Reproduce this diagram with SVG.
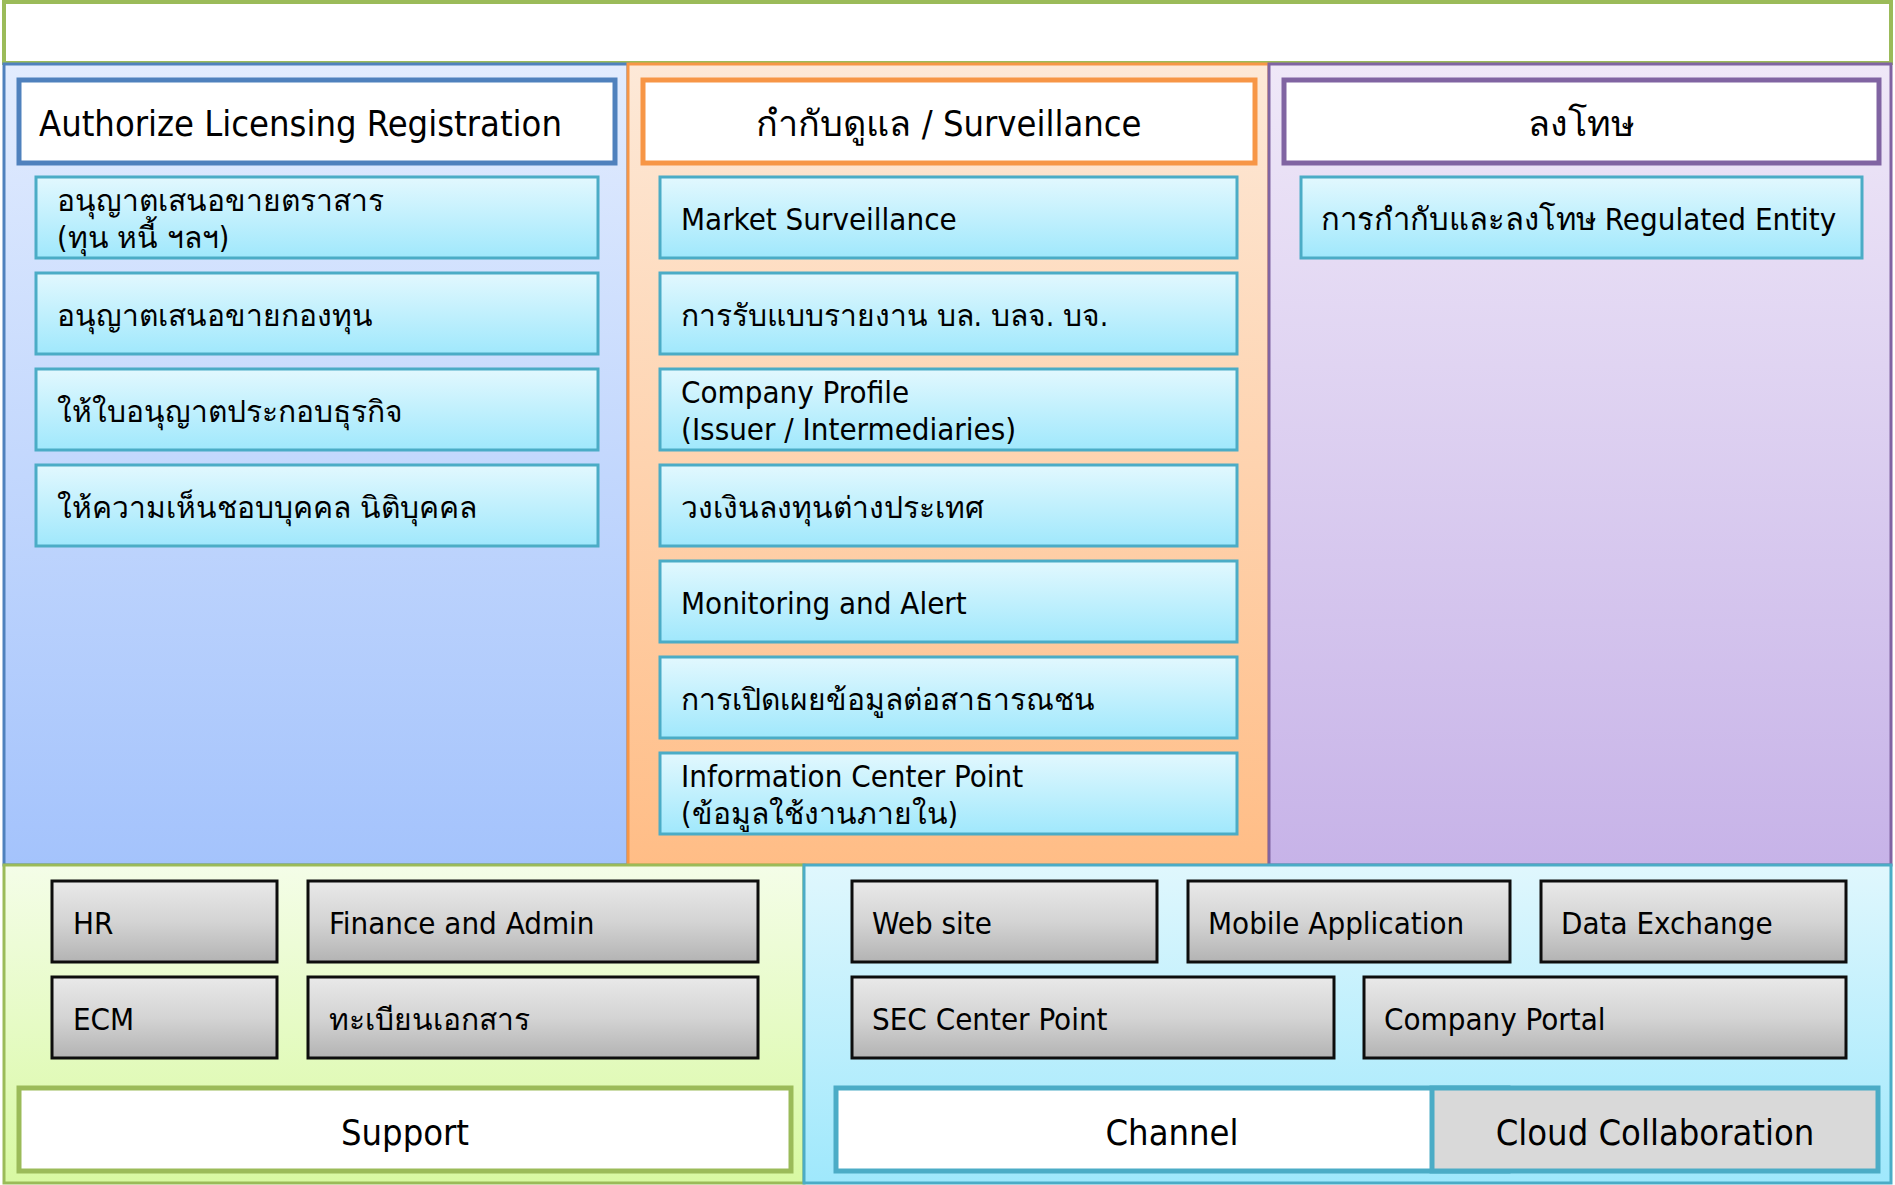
<svg xmlns="http://www.w3.org/2000/svg" width="1895" height="1185" viewBox="0 0 1895 1185">
  <defs>
    <linearGradient id="gBlue" x1="0" y1="0" x2="0" y2="1">
      <stop offset="0" stop-color="#E2ECFE"/>
      <stop offset="1" stop-color="#A4C3FC"/>
    </linearGradient>
    <linearGradient id="gOrange" x1="0" y1="0" x2="0" y2="1">
      <stop offset="0" stop-color="#FDE9D8"/>
      <stop offset="1" stop-color="#FFBD86"/>
    </linearGradient>
    <linearGradient id="gPurple" x1="0" y1="0" x2="0" y2="1">
      <stop offset="0" stop-color="#EFE8F8"/>
      <stop offset="1" stop-color="#C7B3E8"/>
    </linearGradient>
    <linearGradient id="gGreen" x1="0" y1="0" x2="0" y2="1">
      <stop offset="0" stop-color="#F4FDE8"/>
      <stop offset="1" stop-color="#D8F9A2"/>
    </linearGradient>
    <linearGradient id="gCyan" x1="0" y1="0" x2="0" y2="1">
      <stop offset="0" stop-color="#E0F7FD"/>
      <stop offset="1" stop-color="#9FE8FC"/>
    </linearGradient>
    <linearGradient id="gItem" x1="0" y1="0" x2="0" y2="1">
      <stop offset="0" stop-color="#E2F8FE"/>
      <stop offset="1" stop-color="#A0E8FC"/>
    </linearGradient>
    <linearGradient id="gGray" x1="0" y1="0" x2="0" y2="1">
      <stop offset="0" stop-color="#E9E9E9"/>
      <stop offset="0.5" stop-color="#D4D4D4"/>
      <stop offset="1" stop-color="#B3B3B3"/>
    </linearGradient>
  </defs>
  <style>
    text { font-family: "DejaVu Sans Condensed", "DejaVu Sans", sans-serif; font-stretch: condensed; fill: #000; }
    .t { font-size: 31px; }
    .th { font-size: 30px; }
    .h { font-size: 36px; }
    .c { text-anchor: middle; }
    .item { fill: url(#gItem); stroke: #4BACC6; stroke-width: 3; }
    .gray { fill: url(#gGray); stroke: #0D0D0D; stroke-width: 3; }
    .hdr { fill: #FFFFFF; stroke-width: 5; }
  </style>

  <!-- top banner -->
  <g id="banner">
    <rect x="4" y="2" width="1887" height="61" fill="#FFFFFF" stroke="#9BBB59" stroke-width="4"/>
  </g>

  <!-- column: authorize / licensing -->
  <g id="col-authorize">
    <rect x="4" y="64" width="624" height="801" fill="url(#gBlue)" stroke="#4F81BD" stroke-width="3"/>
    <rect class="hdr" x="19" y="80" width="596" height="83" stroke="#4F81BD"/>
    <text class="h" x="39" y="136">Authorize Licensing Registration</text>
  </g>
  <g id="auth-1">
    <rect class="item" x="36" y="177" width="562" height="81"/>
    <text class="th" x="57" y="211">อนุญาตเสนอขายตราสาร</text>
    <text class="th" x="57" y="248">(ทุน หนี้ ฯลฯ)</text>
  </g>
  <g id="auth-2">
    <rect class="item" x="36" y="273" width="562" height="81"/>
    <text class="th" x="57" y="326">อนุญาตเสนอขายกองทุน</text>
  </g>
  <g id="auth-3">
    <rect class="item" x="36" y="369" width="562" height="81"/>
    <text class="th" x="57" y="422">ให้ใบอนุญาตประกอบธุรกิจ</text>
  </g>
  <g id="auth-4">
    <rect class="item" x="36" y="465" width="562" height="81"/>
    <text class="th" x="57" y="518">ให้ความเห็นชอบบุคคล นิติบุคคล</text>
  </g>

  <!-- column: surveillance -->
  <g id="col-surveillance">
    <rect x="628" y="64" width="641" height="801" fill="url(#gOrange)" stroke="#F79646" stroke-width="3"/>
    <rect class="hdr" x="643" y="80" width="612" height="83" stroke="#F79646"/>
    <text class="h c" x="949" y="136">กำกับดูแล / Surveillance</text>
  </g>
  <g id="surv-1">
    <rect class="item" x="660" y="177" width="577" height="81"/>
    <text class="t" x="681" y="230">Market Surveillance</text>
  </g>
  <g id="surv-2">
    <rect class="item" x="660" y="273" width="577" height="81"/>
    <text class="th" x="681" y="326">การรับแบบรายงาน บล. บลจ. บจ.</text>
  </g>
  <g id="surv-3">
    <rect class="item" x="660" y="369" width="577" height="81"/>
    <text class="t" x="681" y="403">Company Profile</text>
    <text class="t" x="681" y="440">(Issuer / Intermediaries)</text>
  </g>
  <g id="surv-4">
    <rect class="item" x="660" y="465" width="577" height="81"/>
    <text class="th" x="681" y="518">วงเงินลงทุนต่างประเทศ</text>
  </g>
  <g id="surv-5">
    <rect class="item" x="660" y="561" width="577" height="81"/>
    <text class="t" x="681" y="614">Monitoring and Alert</text>
  </g>
  <g id="surv-6">
    <rect class="item" x="660" y="657" width="577" height="81"/>
    <text class="th" x="681" y="710">การเปิดเผยข้อมูลต่อสาธารณชน</text>
  </g>
  <g id="surv-7">
    <rect class="item" x="660" y="753" width="577" height="81"/>
    <text class="t" x="681" y="787">Information Center Point</text>
    <text class="th" x="681" y="824">(ข้อมูลใช้งานภายใน)</text>
  </g>

  <!-- column: enforcement -->
  <g id="col-enforcement">
    <rect x="1269" y="64" width="622" height="801" fill="url(#gPurple)" stroke="#8064A2" stroke-width="3"/>
    <rect class="hdr" x="1284" y="80" width="595" height="83" stroke="#8064A2"/>
    <text class="h c" x="1581" y="136">ลงโทษ</text>
  </g>
  <g id="enf-1">
    <rect class="item" x="1301" y="177" width="561" height="81"/>
    <text class="t" x="1321" y="230">การกำกับและลงโทษ Regulated Entity</text>
  </g>

  <!-- support area -->
  <g id="support">
    <rect x="4" y="865" width="800" height="318" fill="url(#gGreen)" stroke="#9BBB59" stroke-width="3"/>
    <rect x="19" y="1088" width="772" height="83" fill="#FFFFFF" stroke="#9BBB59" stroke-width="5"/>
    <text class="h c" x="405" y="1145">Support</text>
  </g>
  <g id="sup-hr">
    <rect class="gray" x="52" y="881" width="225" height="81"/>
    <text class="t" x="73" y="934">HR</text>
  </g>
  <g id="sup-finance">
    <rect class="gray" x="308" y="881" width="450" height="81"/>
    <text class="t" x="329" y="934">Finance and Admin</text>
  </g>
  <g id="sup-ecm">
    <rect class="gray" x="52" y="977" width="225" height="81"/>
    <text class="t" x="73" y="1030">ECM</text>
  </g>
  <g id="sup-docs">
    <rect class="gray" x="308" y="977" width="450" height="81"/>
    <text class="th" x="329" y="1030">ทะเบียนเอกสาร</text>
  </g>

  <!-- channel area -->
  <g id="channel">
    <rect x="804" y="865" width="1087" height="318" fill="url(#gCyan)" stroke="#4BACC6" stroke-width="3"/>
    <rect x="836" y="1088" width="672" height="83" fill="#FFFFFF" stroke="#4BACC6" stroke-width="5"/>
    <text class="h c" x="1172" y="1145">Channel</text>
  </g>
  <g id="cloud">
    <rect x="1432" y="1088" width="446" height="83" fill="#D9D9D9" stroke="#4BACC6" stroke-width="5"/>
    <text class="h c" x="1655" y="1145">Cloud Collaboration</text>
  </g>
  <g id="ch-web">
    <rect class="gray" x="852" y="881" width="305" height="81"/>
    <text class="t" x="872" y="934">Web site</text>
  </g>
  <g id="ch-mobile">
    <rect class="gray" x="1188" y="881" width="322" height="81"/>
    <text class="t" x="1208" y="934">Mobile Application</text>
  </g>
  <g id="ch-exchange">
    <rect class="gray" x="1541" y="881" width="305" height="81"/>
    <text class="t" x="1561" y="934">Data Exchange</text>
  </g>
  <g id="ch-center">
    <rect class="gray" x="852" y="977" width="482" height="81"/>
    <text class="t" x="872" y="1030">SEC Center Point</text>
  </g>
  <g id="ch-portal">
    <rect class="gray" x="1364" y="977" width="482" height="81"/>
    <text class="t" x="1384" y="1030">Company Portal</text>
  </g>

  <!-- no connectors in this layout -->
  <g id="connectors"/>
</svg>
